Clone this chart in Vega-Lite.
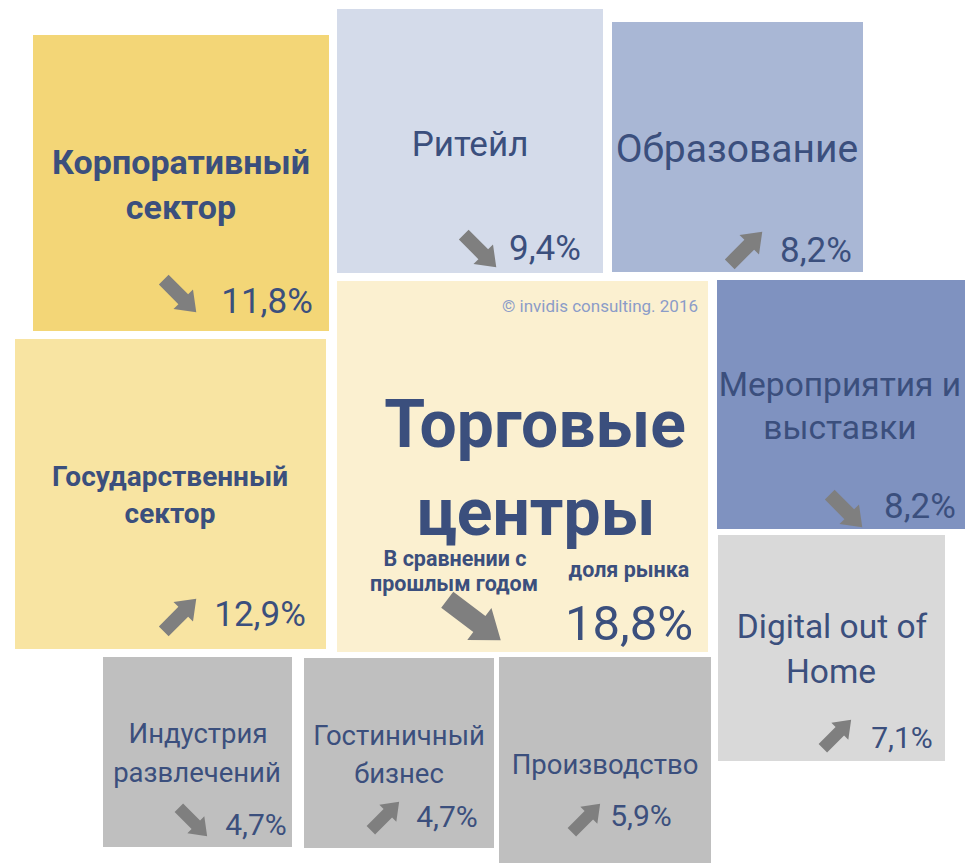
{
  "$schema": "https://vega.github.io/schema/vega-lite/v6.json",
  "width": 965,
  "height": 863,
  "autosize": {"type": "none"},
  "padding": 0,
  "background": "white",
  "config": {"view": {"stroke": null}, "text": {"font": "Roboto"}},
  "datasets": {
    "tiles": [
      {"tile": "Корпоративный сектор", "x0": 33, "x1": 329, "y0": 35, "y1": 331},
      {"tile": "Ритейл", "x0": 337, "x1": 603, "y0": 9, "y1": 273},
      {"tile": "Образование", "x0": 612, "x1": 863, "y0": 22, "y1": 272},
      {"tile": "Государственный сектор", "x0": 15, "x1": 326, "y0": 339, "y1": 649},
      {"tile": "Торговые центры", "x0": 337, "x1": 708, "y0": 281, "y1": 652},
      {"tile": "Мероприятия и выставки", "x0": 717, "x1": 965, "y0": 280, "y1": 529},
      {"tile": "Digital out of Home", "x0": 718, "x1": 945, "y0": 535, "y1": 761},
      {"tile": "Индустрия развлечений", "x0": 103, "x1": 292, "y0": 657, "y1": 847},
      {"tile": "Гостиничный бизнес", "x0": 304, "x1": 494, "y0": 658, "y1": 848},
      {"tile": "Производство", "x0": 499, "x1": 711, "y0": 657, "y1": 863}
    ],
    "labels": [
      {"text": "Корпоративный", "x": 181, "y": 174, "kind": "bigname"},
      {"text": "сектор", "x": 181, "y": 219, "kind": "bigname"},
      {"text": "11,8%", "x": 267, "y": 313, "kind": "share-l"},
      {"text": "Ритейл", "x": 470, "y": 156, "kind": "name-l"},
      {"text": "9,4%", "x": 545, "y": 260, "kind": "share-l"},
      {"text": "Образование", "x": 737, "y": 162, "kind": "name-xl"},
      {"text": "8,2%", "x": 816, "y": 262, "kind": "share-l"},
      {"text": "Государственный", "x": 170, "y": 486, "kind": "boldname"},
      {"text": "сектор", "x": 170, "y": 523, "kind": "boldname"},
      {"text": "12,9%", "x": 260, "y": 626, "kind": "share-l"},
      {"text": "Торговые", "x": 535, "y": 447, "kind": "headline"},
      {"text": "центры", "x": 536, "y": 535, "kind": "headline"},
      {"text": "В сравнении с", "x": 455, "y": 566, "kind": "caption"},
      {"text": "прошлым годом", "x": 454, "y": 591, "kind": "caption"},
      {"text": "доля рынка", "x": 629, "y": 577, "kind": "caption"},
      {"text": "18,8%", "x": 629, "y": 640, "kind": "share-xl"},
      {"text": "Мероприятия и", "x": 840, "y": 396, "kind": "name-m"},
      {"text": "выставки", "x": 840, "y": 439, "kind": "name-m"},
      {"text": "8,2%", "x": 920, "y": 518, "kind": "share-l"},
      {"text": "Digital out of", "x": 832, "y": 638, "kind": "name-m"},
      {"text": "Home", "x": 831, "y": 683, "kind": "name-m"},
      {"text": "7,1%", "x": 902, "y": 748, "kind": "share-s"},
      {"text": "Индустрия", "x": 198, "y": 743, "kind": "name-s"},
      {"text": "развлечений", "x": 197, "y": 782, "kind": "name-s"},
      {"text": "4,7%", "x": 256, "y": 835, "kind": "share-s"},
      {"text": "Гостиничный", "x": 399, "y": 745, "kind": "name-s"},
      {"text": "бизнес", "x": 399, "y": 783, "kind": "name-s"},
      {"text": "4,7%", "x": 447, "y": 827, "kind": "share-s"},
      {"text": "Производство", "x": 605, "y": 774, "kind": "name-s"},
      {"text": "5,9%", "x": 641, "y": 826, "kind": "share-s"},
      {"text": "© invidis consulting. 2016", "x": 600, "y": 312, "kind": "note"}
    ],
    "arrows": [
      {"tile": "Корпоративный сектор", "x": 180, "y": 296, "dir": "down"},
      {"tile": "Ритейл", "x": 480, "y": 251, "dir": "down"},
      {"tile": "Образование", "x": 746, "y": 248, "dir": "up"},
      {"tile": "Государственный сектор", "x": 180, "y": 615, "dir": "up"},
      {"tile": "Торговые центры", "x": 474, "y": 620, "dir": "down"},
      {"tile": "Мероприятия и выставки", "x": 846, "y": 511, "dir": "down"},
      {"tile": "Digital out of Home", "x": 837, "y": 734, "dir": "up"},
      {"tile": "Индустрия развлечений", "x": 193, "y": 822, "dir": "down"},
      {"tile": "Гостиничный бизнес", "x": 385, "y": 816, "dir": "up"},
      {"tile": "Производство", "x": 586, "y": 818, "dir": "up"}
    ]
  },
  "layer": [
    {
      "data": {"name": "tiles"},
      "mark": {"type": "rect", "strokeWidth": 0},
      "encoding": {
        "x": {"field": "x0", "type": "quantitative", "scale": {"domain": [0, 965], "nice": false, "zero": false}, "axis": null},
        "x2": {"field": "x1"},
        "y": {"field": "y0", "type": "quantitative", "scale": {"domain": [0, 863], "nice": false, "zero": false, "reverse": true}, "axis": null},
        "y2": {"field": "y1"},
        "color": {
          "field": "tile", "type": "nominal", "legend": null,
          "scale": {
            "domain": ["Корпоративный сектор", "Ритейл", "Образование", "Государственный сектор", "Торговые центры", "Мероприятия и выставки", "Digital out of Home", "Индустрия развлечений", "Гостиничный бизнес", "Производство"],
            "range": ["#f3d677", "#d4dbea", "#a9b7d5", "#f8e4a2", "#fbf0d0", "#7f92c0", "#d9d9d9", "#bfbfbf", "#bfbfbf", "#bfbfbf"]
          }
        }
      }
    },
    {
      "data": {"name": "arrows"},
      "transform": [{"filter": {"field": "tile", "oneOf": ["Корпоративный сектор", "Ритейл", "Образование", "Государственный сектор", "Мероприятия и выставки"]}}],
      "mark": {"type": "point", "filled": true, "opacity": 1, "strokeWidth": 0, "color": "#7f7f7f", "size": 2116,
        "shape": "M-1,-0.3L0.2,-0.3L0.2,-0.6L1,0L0.2,0.6L0.2,0.3L-1,0.3Z"},
      "encoding": {
        "x": {"field": "x", "type": "quantitative", "scale": {"domain": [0, 965], "nice": false, "zero": false}, "axis": null},
        "y": {"field": "y", "type": "quantitative", "scale": {"domain": [0, 863], "nice": false, "zero": false, "reverse": true}, "axis": null},
        "angle": {"field": "dir", "type": "nominal", "scale": {"type": "ordinal", "domain": ["down", "up"], "range": [45, 315]}, "legend": null}
      }
    },
    {
      "data": {"name": "arrows"},
      "transform": [{"filter": {"field": "tile", "oneOf": ["Digital out of Home", "Индустрия развлечений", "Гостиничный бизнес", "Производство"]}}],
      "mark": {"type": "point", "filled": true, "opacity": 1, "strokeWidth": 0, "color": "#7f7f7f", "size": 1600,
        "shape": "M-1,-0.3L0.2,-0.3L0.2,-0.6L1,0L0.2,0.6L0.2,0.3L-1,0.3Z"},
      "encoding": {
        "x": {"field": "x", "type": "quantitative", "scale": {"domain": [0, 965], "nice": false, "zero": false}, "axis": null},
        "y": {"field": "y", "type": "quantitative", "scale": {"domain": [0, 863], "nice": false, "zero": false, "reverse": true}, "axis": null},
        "angle": {"field": "dir", "type": "nominal", "scale": {"type": "ordinal", "domain": ["down", "up"], "range": [45, 315]}, "legend": null}
      }
    },
    {
      "data": {"name": "arrows"},
      "transform": [{"filter": {"field": "tile", "equal": "Торговые центры"}}],
      "mark": {"type": "point", "filled": true, "opacity": 1, "strokeWidth": 0, "color": "#7f7f7f", "size": 4489, "angle": 37,
        "shape": "M-1,-0.3L0.2,-0.3L0.2,-0.6L1,0L0.2,0.6L0.2,0.3L-1,0.3Z"},
      "encoding": {
        "x": {"field": "x", "type": "quantitative", "scale": {"domain": [0, 965], "nice": false, "zero": false}, "axis": null},
        "y": {"field": "y", "type": "quantitative", "scale": {"domain": [0, 863], "nice": false, "zero": false, "reverse": true}, "axis": null}
      }
    },
    {
      "data": {"name": "labels"},
      "transform": [{"filter": {"field": "kind", "oneOf": ["headline", "bigname", "boldname", "caption"]}}],
      "mark": {"type": "text", "font": "Roboto", "fontWeight": "bold", "align": "center", "baseline": "alphabetic", "color": "#3b4f7d"},
      "encoding": {
        "x": {"field": "x", "type": "quantitative", "scale": {"domain": [0, 965], "nice": false, "zero": false}, "axis": null},
        "y": {"field": "y", "type": "quantitative", "scale": {"domain": [0, 863], "nice": false, "zero": false, "reverse": true}, "axis": null},
        "text": {"field": "text"},
        "size": {"field": "kind", "type": "nominal", "legend": null,
          "scale": {"type": "ordinal", "domain": ["headline", "bigname", "boldname", "caption", "name-xl", "name-l", "name-m", "name-s", "share-xl", "share-l", "share-s", "note"],
                    "range": [66, 34, 28, 21.5, 39, 35, 33.5, 27.5, 49, 35, 30, 17]}}
      }
    },
    {
      "data": {"name": "labels"},
      "transform": [{"filter": {"field": "kind", "oneOf": ["name-xl", "name-l", "name-m", "name-s", "share-xl", "share-l", "share-s"]}}],
      "mark": {"type": "text", "font": "Roboto", "fontWeight": "normal", "align": "center", "baseline": "alphabetic", "color": "#3b4f7d"},
      "encoding": {
        "x": {"field": "x", "type": "quantitative", "scale": {"domain": [0, 965], "nice": false, "zero": false}, "axis": null},
        "y": {"field": "y", "type": "quantitative", "scale": {"domain": [0, 863], "nice": false, "zero": false, "reverse": true}, "axis": null},
        "text": {"field": "text"},
        "size": {"field": "kind", "type": "nominal", "legend": null,
          "scale": {"type": "ordinal", "domain": ["headline", "bigname", "boldname", "caption", "name-xl", "name-l", "name-m", "name-s", "share-xl", "share-l", "share-s", "note"],
                    "range": [66, 34, 28, 21.5, 39, 35, 33.5, 27.5, 49, 35, 30, 17]}}
      }
    },
    {
      "data": {"name": "labels"},
      "transform": [{"filter": {"field": "kind", "equal": "note"}}],
      "mark": {"type": "text", "font": "Roboto", "fontWeight": "normal", "align": "center", "baseline": "alphabetic", "color": "#8b9cc8"},
      "encoding": {
        "x": {"field": "x", "type": "quantitative", "scale": {"domain": [0, 965], "nice": false, "zero": false}, "axis": null},
        "y": {"field": "y", "type": "quantitative", "scale": {"domain": [0, 863], "nice": false, "zero": false, "reverse": true}, "axis": null},
        "text": {"field": "text"},
        "size": {"field": "kind", "type": "nominal", "legend": null,
          "scale": {"type": "ordinal", "domain": ["headline", "bigname", "boldname", "caption", "name-xl", "name-l", "name-m", "name-s", "share-xl", "share-l", "share-s", "note"],
                    "range": [66, 34, 28, 21.5, 39, 35, 33.5, 27.5, 49, 35, 30, 17]}}
      }
    }
  ]
}
